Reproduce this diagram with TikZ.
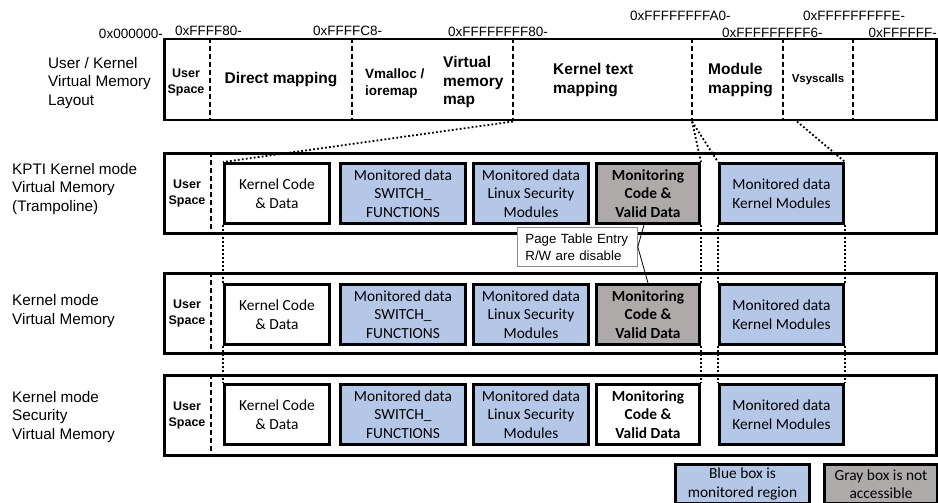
\documentclass[tikz,border=0pt]{standalone}
\usepackage{fontspec}
\setmainfont{Liberation Sans}
\newfontfamily\calfont{Carlito}
\usetikzlibrary{calc}
\definecolor{monblue}{RGB}{180,199,231}
\definecolor{nogray}{RGB}{174,170,170}
\begin{document}
\begin{tikzpicture}[x=1pt,y=-1pt,
  rowbox/.style={draw, line width=2.5pt, anchor=north west, inner sep=0pt, minimum width=772pt, minimum height=81pt},
  membox/.style={draw, line width=3pt, anchor=north west, inner sep=0pt, align=center, minimum height=60pt, font=\calfont\fontsize{15.4}{18.5}\selectfont},
  boldmem/.style={membox, font=\calfont\bfseries\fontsize{15.4}{18.5}\selectfont},
  divider/.style={line width=2pt, dash pattern=on 5pt off 3pt},
  dotline/.style={line width=1.8pt, dash pattern=on 1.8pt off 2.2pt},
  addr/.style={inner sep=0pt, font=\fontsize{13.5}{16}\selectfont},
  rowlabel/.style={inner sep=0pt, anchor=west, align=left, font=\fontsize{15.3}{18.8}\selectfont},
  segbig/.style={inner sep=0pt, align=left, font=\bfseries\fontsize{15.5}{18.5}\selectfont},
  userspace/.style={inner sep=0pt, align=center, font=\bfseries\fontsize{12.5}{16}\selectfont}]
\useasboundingbox (0,0) rectangle (938,503);

% ---------- address labels ----------
\node[addr, anchor=east] (a0) at (163,34) {0x000000-};
\node[addr, anchor=west] (a1) at (175,31) {0xFFFF80-};
\node[addr, anchor=west] (a2) at (313,31) {0xFFFFC8-};
\node[addr, anchor=west] (a3) at (448,32) {0xFFFFFFFF80-};
\node[addr, anchor=west] (a4) at (630,16) {0xFFFFFFFFA0-};
\node[addr, anchor=west] (a5) at (722,33) {0xFFFFFFFFF6-};
\node[addr, anchor=west] (a6) at (803,16) {0xFFFFFFFFFE-};
\node[addr, anchor=east] (a7) at (937,33) {0xFFFFFF-};

% ---------- row labels ----------
\node[rowlabel] (l1) at (48,83) {User / Kernel\\Virtual Memory\\Layout};
\node[rowlabel] (l2) at (12,189) {KPTI Kernel mode\\Virtual Memory\\(Trampoline)};
\node[rowlabel] (l3) at (12,311) {Kernel mode\\Virtual Memory};
\node[rowlabel] (l4) at (12,417) {Kernel mode\\Security\\Virtual Memory};

% ---------- row 1: layout ----------
\node[rowbox] (row1) at (163,38) {};
\foreach \dx/\nm in {47/d1,189/d2,350/d3,529/d4,620/d5,690/d6}{
  \coordinate (\nm t) at ([xshift=\dx pt]row1.north west);
  \coordinate (\nm b) at ([xshift=\dx pt]row1.south west);
  \draw[divider] (\nm t) -- (\nm b);
}
\node[userspace] (us1) at (186,82) {User\\Space};
\node[segbig, anchor=center] (dm) at (281,80) {Direct mapping};
\node[inner sep=0pt, anchor=west, align=left, font=\bfseries\fontsize{13.5}{17}\selectfont] (vm) at (365,84) {Vmalloc /\\ioremap};
\node[segbig, anchor=west] (vmm) at (443,82) {Virtual\\memory\\map};
\node[segbig, anchor=west] (ktm) at (553,80) {Kernel text\\mapping};
\node[segbig, anchor=west] (mm) at (708,80) {Module\\mapping};
\node[inner sep=0pt, font=\bfseries\fontsize{11.5}{14}\selectfont] (vs) at (818,80) {Vsyscalls};

% ---------- rows 2-4 ----------
\foreach \r/\y/\iy in {2/152/162, 3/272/283, 4/374/383}{
  \node[rowbox, minimum height=80pt] (row\r) at (163,\y) {};
  \draw[divider] ([xshift=48pt]row\r.north west) -- ([xshift=48pt]row\r.south west);
  \node[userspace] (us\r) at (187,\y+41) {User\\Space};
  \node[membox, minimum width=105pt] (kc\r) at (223,\iy) {Kernel Code\\\& Data};
  \node[membox, fill=monblue, minimum width=125pt] (sw\r) at (339,\iy) {Monitored data\\SWITCH\_\\FUNCTIONS};
  \node[membox, fill=monblue, minimum width=115pt] (lsm\r) at (472,\iy) {Monitored data\\Linux Security\\Modules};
  \node[membox, fill=monblue, minimum width=124pt] (km\r) at (718,\iy) {Monitored data\\Kernel Modules};
}
\node[boldmem, fill=nogray, minimum width=103pt] (mon2) at (595,162) {Monitoring\\Code \&\\Valid Data};
\node[boldmem, fill=nogray, minimum width=103pt] (mon3) at (595,283) {Monitoring\\Code \&\\Valid Data};
\node[boldmem, minimum width=103pt] (mon4) at (595,383) {Monitoring\\Code \&\\Valid Data};

% ---------- dotted mapping lines ----------
\coordinate (k5) at ([xshift=14pt]d5b);
\draw[dotline] (d3b) -- (kc2.north west);
\draw[dotline] (kc2.south west) -- (kc3.north west);
\draw[dotline] (kc3.south west) -- (kc4.north west);
\draw[dotline] (d4b) -- (mon2.north east);
\draw[dotline] (d4b) -- (km2.north west);
\draw[dotline] (k5) -- (km2.north east);
\draw[dotline] (mon2.south east) -- (mon3.north east);
\draw[dotline] (mon3.south east) -- (mon4.north east);
\draw[dotline] (km2.south west) -- (km3.north west);
\draw[dotline] (km3.south west) -- (km4.north west);
\draw[dotline] (km2.south east) -- (km3.north east);
\draw[dotline] (km3.south east) -- (km4.north east);

% ---------- callout ----------
\node[draw=black!45, fill=white, line width=0.8pt, anchor=north west, inner xsep=8pt, inner ysep=0pt,
      text width=104pt, minimum height=39pt, align=left, font=\fontsize{13.3}{17}\selectfont] (pte) at (517,227)
      {Page Table Entry\\R/W are disable};
\draw[line width=0.8pt] ([xshift=-4pt]mon2.south) -- (pte.east) -- (mon3.north);

% ---------- legend ----------
\node[membox, fill=monblue, minimum width=134pt, minimum height=39pt] (lgb) at (674,463) {Blue box is\\monitored region};
\node[membox, fill=nogray, minimum width=113pt, minimum height=39pt] (lgg) at (823,463) {Gray box is not\\accessible};
\end{tikzpicture}
\end{document}
